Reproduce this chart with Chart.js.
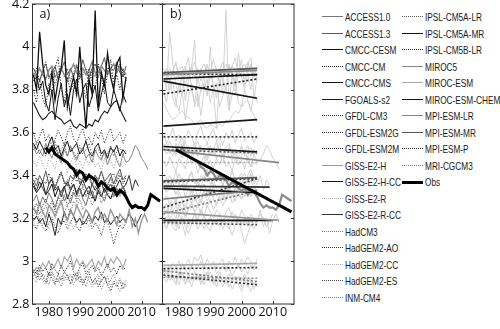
<!DOCTYPE html>
<html><head><meta charset="utf-8">
<script src="https://cdn.jsdelivr.net/npm/chart.js@4.4.1/dist/chart.umd.min.js"></script>
<style>
html,body{margin:0;padding:0;background:#fff;}
#wrap{position:relative;width:500px;height:329px;overflow:hidden;background:#fff;}
#ca{position:absolute;left:0;top:0;}
#cb{position:absolute;left:160px;top:0;}
.lg{position:absolute;height:12px;width:100px;font-family:"Liberation Sans",Arial,sans-serif;font-size:10.6px;color:#1a1a1a;white-space:nowrap;}
.lg .s{position:absolute;left:0;width:21px;height:0;}
.lg .t{position:absolute;left:23px;top:0;line-height:12px;transform-origin:0 50%;transform:scaleX(0.78);}
</style></head><body>
<div id="wrap">
<canvas id="ca" width="170" height="329"></canvas>
<canvas id="cb" width="140" height="329"></canvas>
<div id="legend"></div>
</div>
<script>
// ---------------- DATA ----------------
const startYear = 1975;
const xTicks = [1980, 1990, 2000, 2010];
const yTicks = [2.8, 3.0, 3.2, 3.4, 3.6, 3.8, 4.0, 4.2];
const yLabels = ['2.8', '3', '3.2', '3.4', '3.6', '3.8', '4', '4.2'];

const modelNames = ['ACCESS1.0','ACCESS1.3','CMCC-CESM','CMCC-CM','CMCC-CMS','FGOALS-s2','GFDL-CM3','GFDL-ESM2G','GFDL-ESM2M','GISS-E2-H','GISS-E2-H-CC','GISS-E2-R','GISS-E2-R-CC','HadCM3','HadGEM2-AO','HadGEM2-CC','HadGEM2-ES','INM-CM4','IPSL-CM5A-LR','IPSL-CM5A-MR','IPSL-CM5B-LR','MIROC5','MIROC-ESM','MIROC-ESM-CHEM','MPI-ESM-LR','MPI-ESM-MR','MPI-ESM-P','MRI-CGCM3'];

const ACCESS1_0 = [3.28,3.31,3.26,3.30,3.27,3.32,3.29,3.25,3.30,3.33,3.28,3.31,3.27,3.32,3.30,3.34,3.29,3.26,3.31,3.33,3.29,3.35,3.31,3.28,3.33,3.36,3.30,3.34,3.31,3.35,3.32];
const ACCESS1_3 = [3.38,3.35,3.40,3.37,3.42,3.36,3.39,3.34,3.38,3.41,3.37,3.35,3.40,3.38,3.43,3.36,3.39,3.37,3.41,3.35,3.40,3.38,3.42,3.37,3.39,3.41,3.36,3.40,3.43,3.38,3.40];
const CMCC_CESM = [3.87,3.80,4.07,3.92,3.82,3.78,3.88,3.75,3.84,3.90,4.03,3.72,3.80,3.86,3.78,4.00,3.80,3.62,3.85,3.78,4.17,3.72,3.88,3.82,3.97,3.86,3.80,3.92,3.95,3.76,3.86];
const CMCC_CM = [3.80,3.74,3.85,3.76,3.72,3.83,3.78,3.90,3.95,3.80,3.74,3.86,3.79,3.83,3.77,3.88,3.82,3.76,3.90,3.84,3.80,3.92,3.86,3.78,3.88,3.94,3.82,3.87,3.80,3.90,3.84];
const CMCC_CMS = [3.84,3.86,3.80,3.84,3.74,3.70,3.80,3.66,3.76,3.83,3.72,3.78,3.68,3.80,3.85,3.74,3.80,3.83,3.72,3.77,3.82,3.70,3.78,3.84,3.74,3.72,3.80,3.75,3.70,3.78,3.74];
const FGOALS_s2 = [3.74,3.71,3.68,3.66,3.67,3.69,3.70,3.68,3.67,3.66,3.64,3.65,3.66,3.63,3.62,3.64,3.63,3.62,3.64,3.63,3.66,3.65,3.68,3.70,3.69,3.72,3.74,3.75,3.71,3.68,3.65];
const GFDL_CM3 = [3.60,3.55,3.58,3.62,3.56,3.59,3.53,3.57,3.61,3.58,3.54,3.60,3.63,3.57,3.55,3.59,3.62,3.56,3.58,3.54,3.60,3.57,3.61,3.55,3.59,3.62,3.56,3.58,3.60,3.55,3.59];
const GFDL_ESM2G = [2.95,2.92,2.96,2.93,2.90,2.95,2.92,2.89,2.94,2.91,2.95,2.93,2.90,2.94,2.91,2.93,2.89,2.92,2.95,2.90,2.92,2.88,2.91,2.93,2.89,2.86,2.90,2.88,2.91,2.87,2.90];
const GFDL_ESM2M = [2.96,2.94,2.98,2.95,2.97,2.93,2.99,2.96,2.94,2.98,2.95,2.97,3.00,2.95,2.93,2.97,2.99,2.94,2.96,2.98,2.95,2.97,2.93,2.96,2.99,2.95,2.97,2.94,2.98,2.96,2.97];
const GISS_E2_H = [3.25,3.22,3.27,3.23,3.20,3.26,3.24,3.21,3.25,3.28,3.22,3.19,3.24,3.21,3.26,3.23,3.20,3.24,3.22,3.18,3.23,3.25,3.20,3.22,3.19,3.24,3.21,3.17,3.22,3.20,3.18,3.24,3.16,3.20,3.13,3.19,3.22,3.18];
const GISS_E2_H_CC = [3.19,3.21,3.18,3.20,3.16,3.22,3.18,3.12,3.20,3.17,3.23,3.19,3.24,3.21,3.18,3.20,3.17,3.19,3.22,3.18,3.21,3.19,3.23,3.18,3.20,3.17,3.19,3.21,3.18,3.20,3.19,3.22,3.20,3.16,3.19,3.22];
const GISS_E2_R = [3.18,3.16,3.20,3.17,3.19,3.15,3.21,3.18,3.16,3.19,3.22,3.17,3.19,3.15,3.18,3.21,3.17,3.19,3.16,3.20,3.18,3.15,3.19,3.21,3.17,3.18,3.20,3.16,3.19,3.17,3.19];
const GISS_E2_R_CC = [3.36,3.33,3.37,3.34,3.31,3.36,3.38,3.33,3.35,3.30,3.34,3.37,3.33,3.36,3.32,3.35,3.38,3.34,3.31,3.36,3.33,3.35,3.37,3.32,3.34,3.36,3.33,3.35,3.38,3.34,3.36,3.40,3.33,3.38,3.35];
const HadCM3 = [2.93,2.96,2.91,2.94,2.92,2.89,2.95,2.92,2.90,2.93,2.91,2.94,2.89,2.92,2.95,2.90,2.92,2.88,2.93,2.91,2.89,2.92,2.87,2.90,2.93,2.88,2.91,2.89,2.86,2.90,2.88];
const HadGEM2_AO = [3.24,3.27,3.22,3.26,3.29,3.25,3.28,3.23,3.30,3.27,3.31,3.26,3.29,3.33,3.28,3.31,3.35,3.30,3.33,3.29,3.35,3.32,3.37,3.33,3.36,3.39,3.34,3.38,3.41,3.36,3.39];
const HadGEM2_CC = [3.47,3.44,3.49,3.45,3.42,3.48,3.46,3.43,3.50,3.45,3.47,3.41,3.46,3.49,3.44,3.47,3.43,3.48,3.45,3.50,3.44,3.46,3.42,3.48,3.45,3.47,3.43,3.49,3.44,3.46,3.45];
const HadGEM2_ES = [3.17,3.15,3.19,3.16,3.14,3.18,3.20,3.16,3.13,3.17,3.19,3.15,3.18,3.21,3.16,3.14,3.19,3.17,3.20,3.15,3.18,3.16,3.12,3.17,3.19,3.14,3.08,3.13,3.17,3.15,3.18];
const INM_CM4 = [2.92,2.90,2.94,2.91,2.89,2.93,2.95,2.90,2.92,2.88,2.93,2.91,2.94,2.89,2.92,2.95,2.90,2.93,2.91,2.88,2.92,2.94,2.90,2.93,2.89,2.91,2.94,2.90,2.92,2.89,2.91];
const IPSL_CM5A_LR = [3.52,3.55,3.50,3.53,3.49,3.54,3.51,3.56,3.50,3.52,3.55,3.49,3.53,3.51,3.48,3.54,3.50,3.52,3.55,3.49,3.51,3.53,3.48,3.52,3.50,3.54,3.49,3.51,3.53,3.50,3.52];
const IPSL_CM5A_MR = [3.55,3.52,3.56,3.53,3.50,3.55,3.58,3.52,3.54,3.49,3.53,3.56,3.51,3.53,3.55,3.50,3.52,3.56,3.51,3.49,3.53,3.55,3.50,3.52,3.48,3.53,3.51,3.54,3.49,3.52,3.50];
const IPSL_CM5B_LR = [3.36,3.39,3.34,3.38,3.36,3.41,3.37,3.35,3.39,3.42,3.36,3.38,3.34,3.40,3.37,3.39,3.35,3.41,3.38,3.36,3.40,3.37,3.42,3.38,3.35,3.39,3.41,3.37,3.40,3.38,3.36];
const MIROC5 = [3.54,3.50,3.52,3.49,3.55,3.51,3.48,3.53,3.50,3.46,3.52,3.49,3.54,3.50,3.47,3.51,3.53,3.48,3.50,3.46,3.52,3.49,3.47,3.51,3.45,3.49,3.52,3.47,3.44,3.50,3.46,3.47,3.50,3.54,3.52,3.48,3.46,3.43];
const MIROC_ESM = [2.95,2.97,2.96,2.99,2.97,3.00,2.96,2.98,3.01,2.97,3.02,3.00,3.03,2.97,3.01,2.98,3.00,2.97,2.99,3.01,2.96,3.00,2.98,3.02,2.97,3.01,2.99,3.02,3.00,2.97,3.01];
const MIROC_ESM_CHEM = [3.35,3.32,3.34,3.37,3.31,3.33,3.36,3.30,3.34,3.32,3.35,3.29,3.33,3.36,3.31,3.34,3.30,3.33,3.35,3.31,3.28,3.33,3.30,3.34,3.31,3.29,3.33,3.30,3.32,3.35,3.31];
const MPI_ESM_LR = [3.88,3.86,3.90,3.87,3.85,3.89,3.91,3.86,3.88,3.90,3.87,3.84,3.89,3.92,3.88,3.86,3.90,3.87,3.89,3.93,3.88,3.86,3.91,3.89,3.87,3.90,3.92,3.88,3.91,3.89,3.87];
const MPI_ESM_MR = [3.90,3.87,3.84,3.89,3.92,3.86,3.88,3.91,3.85,3.89,3.93,3.87,3.90,3.86,3.91,3.88,3.94,3.89,3.86,3.90,3.92,3.88,3.91,3.95,3.87,3.90,3.89,3.93,3.88,3.86,3.91];
const MPI_ESM_P = [3.86,3.90,3.84,3.88,3.93,3.85,3.89,3.82,3.87,3.91,3.86,3.90,3.84,3.88,3.92,3.85,3.87,3.90,3.83,3.89,3.86,3.91,3.87,3.84,3.90,3.88,3.85,3.89,3.92,3.86,3.88];
const MRI_CGCM3 = [3.21,3.24,3.19,3.23,3.26,3.22,3.25,3.20,3.24,3.27,3.23,3.26,3.22,3.28,3.25,3.29,3.24,3.27,3.30,3.26,3.29,3.32,3.27,3.30,3.33,3.29,3.31,3.34,3.30,3.33,3.31];

const modelSeries = [ACCESS1_0, ACCESS1_3, CMCC_CESM, CMCC_CM, CMCC_CMS, FGOALS_s2, GFDL_CM3, GFDL_ESM2G, GFDL_ESM2M, GISS_E2_H, GISS_E2_H_CC, GISS_E2_R, GISS_E2_R_CC, HadCM3, HadGEM2_AO, HadGEM2_CC, HadGEM2_ES, INM_CM4, IPSL_CM5A_LR, IPSL_CM5A_MR, IPSL_CM5B_LR, MIROC5, MIROC_ESM, MIROC_ESM_CHEM, MPI_ESM_LR, MPI_ESM_MR, MPI_ESM_P, MRI_CGCM3];

// linear trend end points (panel b), start year = startYear, end year = last year of series
const trendStart = [3.29,3.375,3.85,3.78,3.84,3.63,3.58,2.935,2.965,3.23,3.19,3.185,3.35,2.955,3.25,3.46,3.18,2.925,3.52,3.535,3.37,3.52,2.98,3.34,3.87,3.88,3.875,3.22];
const trendEnd   = [3.33,3.39,3.87,3.85,3.76,3.66,3.58,2.89,2.97,3.19,3.19,3.185,3.345,2.905,3.385,3.46,3.17,2.92,3.505,3.51,3.385,3.46,2.99,3.32,3.89,3.90,3.87,3.33];

const obsStart = 1979;
const obsValues = [3.53,3.51,3.53,3.50,3.49,3.48,3.47,3.46,3.44,3.43,3.40,3.42,3.41,3.38,3.40,3.39,3.38,3.35,3.37,3.36,3.34,3.33,3.34,3.31,3.33,3.32,3.30,3.27,3.25,3.26,3.25,3.25,3.24,3.26,3.31,3.30,3.29,3.28];
const obsTrendYears = [1979, 2016];
const obsTrendValues = [3.52, 3.23];

// ---------------- STYLES ----------------
const modelColor = ['#777','#5a5a5a','#111','#222','#111','#1a1a1a','#333','#333','#222','#999','#111','#aaa','#333','#777','#333','#aaa','#444','#888','#555','#111','#333','#888','#aaa','#111','#888','#555','#333','#777'];
const modelDotted = [0,0,0,1,0,0,1,1,1,0,0,1,0,1,1,1,1,1,1,0,1,0,0,0,0,0,1,1];
const modelWidth = [1.0,1.0,1.3,1.0,1.0,1.1,1.0,1.0,1.0,1.4,0.9,1.0,1.0,1.0,1.0,1.0,1.0,1.0,1.0,1.0,1.0,1.0,1.2,1.0,1.4,1.0,1.0,1.0];

const xMin = 1974.7, xMax = 2016.8;
const FONT = '"Open Sans", "Liberation Sans", Arial, sans-serif';

function pts(vals, y0){ return vals.map((v,i)=>({x:y0+i, y:v})); }

const frame = {
  id:'frame',
  afterDraw(chart, args, opts){
    const {ctx, chartArea:a, scales:{x, y}} = chart;
    ctx.save();
    ctx.strokeStyle = '#333'; ctx.lineWidth = 1;
    ctx.strokeRect(a.left, a.top, a.right-a.left, a.bottom-a.top);
    const L = 3;
    ctx.beginPath();
    xTicks.forEach(v=>{const p=Math.round(x.getPixelForValue(v))+0.5; ctx.moveTo(p,a.bottom); ctx.lineTo(p,a.bottom-L); ctx.moveTo(p,a.top); ctx.lineTo(p,a.top+L);});
    yTicks.forEach(v=>{const p=Math.round(y.getPixelForValue(v))+0.5; ctx.moveTo(a.left,p); ctx.lineTo(a.left+L,p); ctx.moveTo(a.right,p); ctx.lineTo(a.right-L,p);});
    ctx.stroke();
    ctx.fillStyle = '#111'; ctx.font = '12.5px ' + FONT; ctx.textBaseline = 'middle';
    ctx.fillText(opts.label, a.left + opts.dx, a.top + 10);
    ctx.restore();
  }
};

function scales(showY, yWidth){
  return {
    x: { type:'linear', min:xMin, max:xMax,
      afterBuildTicks: s=>{ s.ticks = xTicks.map(v=>({value:v})); },
      afterFit: s=>{ s.height = 25; s.paddingLeft = 0; s.paddingRight = 0; },
      grid:{display:false, drawTicks:false}, border:{display:false},
      ticks:{ font:{family:FONT, size:12.5}, color:'#111', padding:1, maxRotation:0, autoSkip:false, callback:v=>String(v) } },
    y: { type:'linear', min:2.8, max:4.2,
      afterBuildTicks: s=>{ s.ticks = yTicks.map(v=>({value:v})); },
      afterFit: s=>{ s.width = yWidth; s.paddingTop = 0; s.paddingBottom = 0; },
      grid:{display:false, drawTicks:false}, border:{display:false},
      ticks:{ display:showY, font:{family:FONT, size:12.5}, color:'#111', padding:3, autoSkip:false, callback:(v,i)=>yLabels[i] } }
  };
}

// ---------- Panel a ----------
const dsA = modelSeries.map((vals,i)=>({
  label:modelNames[i], data:pts(vals,startYear), borderColor:modelColor[i], borderWidth:modelWidth[i],
  borderDash: modelDotted[i] ? [1.2,1.6] : [], pointRadius:0, tension:0, fill:false, order:1
}));
dsA.push({label:'Obs', data:pts(obsValues,obsStart), borderColor:'#000', borderWidth:3, pointRadius:0, tension:0, fill:false, order:0});

new Chart(document.getElementById('ca'), {
  type:'line', data:{datasets:dsA},
  options:{ responsive:false, animation:false, events:[],
    layout:{padding:{top:4, right:7.5, left:0, bottom:0}},
    plugins:{legend:{display:false}, tooltip:{enabled:false}, frame:{label:'a)', dx:7}},
    scales: scales(true, 32.5) },
  plugins:[frame]
});

// ---------- Panel b ----------
const dsB = [];
modelSeries.forEach((vals,i)=>{
  dsB.push({label:modelNames[i]+' series', data:pts(vals,startYear), borderColor:'#cfcfcf', borderWidth:0.9, pointRadius:0, tension:0, fill:false, order:3});
});
dsB.push({label:'Obs series', data:pts(obsValues,obsStart), borderColor:'#8a8a8a', borderWidth:2.2, pointRadius:0, tension:0, fill:false, order:2});
modelSeries.forEach((vals,i)=>{
  const endYear = startYear + vals.length - 1;
  dsB.push({label:modelNames[i]+' trend', data:[{x:startYear,y:trendStart[i]},{x:endYear,y:trendEnd[i]}],
    borderColor:modelColor[i], borderWidth: modelDotted[i] ? 1.6 : 1.7, borderDash: modelDotted[i] ? [2,2] : [],
    pointRadius:0, tension:0, fill:false, order:1});
});
dsB.push({label:'Obs trend', data:[{x:obsTrendYears[0],y:obsTrendValues[0]},{x:obsTrendYears[1],y:obsTrendValues[1]}], borderColor:'#000', borderWidth:3, pointRadius:0, tension:0, fill:false, order:0});

new Chart(document.getElementById('cb'), {
  type:'line', data:{datasets:dsB},
  options:{ responsive:false, animation:false, events:[],
    layout:{padding:{top:4, right:6, left:0, bottom:0}},
    plugins:{legend:{display:false}, tooltip:{enabled:false}, frame:{label:'b)', dx:7.5}},
    scales: scales(false, 2.5) },
  plugins:[frame]
});

// ---------- Legend (HTML) ----------
const lg = document.getElementById('legend');
const names = modelNames.concat(['Obs']);
names.forEach((nm,i)=>{
  const col = i < 18 ? 0 : 1;
  const row = col===0 ? i : i-18;
  const left = col===0 ? 322 : 402;
  const yc = 17 + row*16.5;
  const d = document.createElement('div');
  d.className = 'lg'; d.style.left = left+'px'; d.style.top = (yc-6)+'px';
  const s = document.createElement('div'); s.className='s';
  let w, c, st;
  if (nm==='Obs'){ w=3; c='#000'; st='solid'; }
  else { w = modelDotted[i] ? 1.5 : Math.max(1.2, modelWidth[i]); c = modelColor[i]; st = modelDotted[i] ? 'dotted':'solid'; }
  s.style.top = (6 - w/2)+'px'; s.style.borderTop = w+'px '+st+' '+c;
  const t = document.createElement('div'); t.className='t'; t.textContent = nm;
  d.appendChild(s); d.appendChild(t); lg.appendChild(d);
});
</script>
</body></html>
